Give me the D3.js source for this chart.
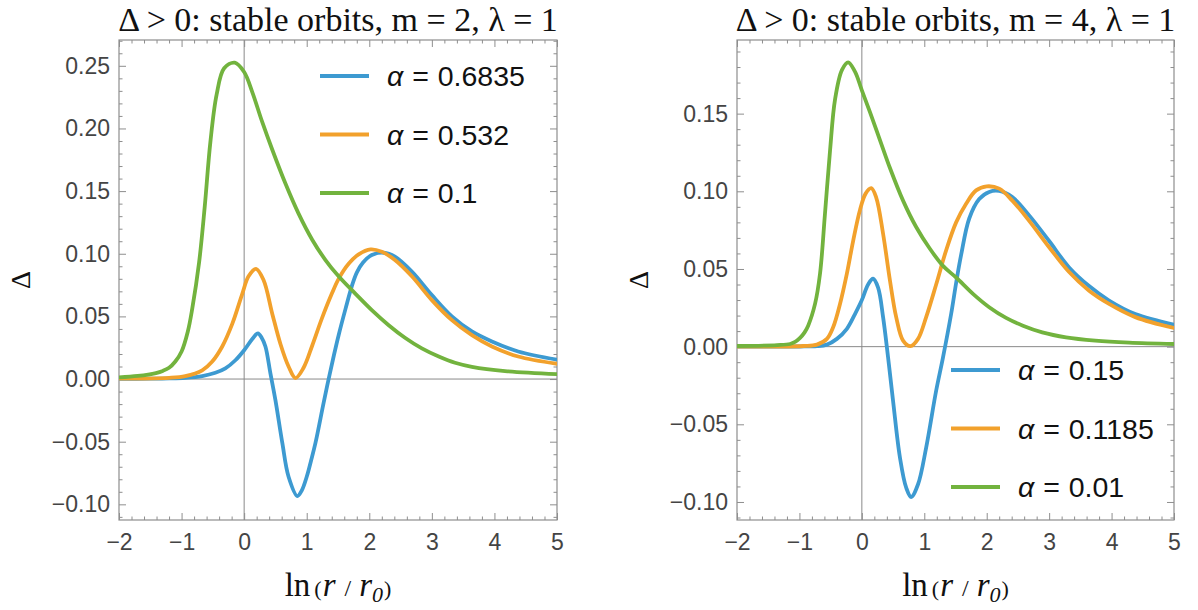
<!DOCTYPE html>
<html>
<head>
<meta charset="utf-8">
<script src="https://cdn.jsdelivr.net/npm/d3@7"></script>
<style>
  html, body { margin: 0; padding: 0; background: #fff; }
  svg { display: block; }
</style>
</head>
<body>
<svg id="chart" width="1198" height="610"></svg>
<script>
// Δ against ln(r/r0), sampled along each curve: [ln(r/r0), Δ]
// m = 2, λ = 1
const m2_alpha0_6835 = [
  [-2, 0.0002], [-1.5, 0.0003], [-1.2, 0.0005], [-0.94, 0.001], [-0.67, 0.0024],
  [-0.46, 0.005], [-0.30, 0.0085], [-0.14, 0.015], [0, 0.023], [0.13, 0.032],
  [0.22, 0.0365], [0.28, 0.033], [0.34, 0.026], [0.42, 0.0045], [0.50, -0.0168],
  [0.61, -0.051], [0.71, -0.078], [0.85, -0.0934], [0.92, -0.089], [1.0, -0.078],
  [1.07, -0.065], [1.14, -0.051], [1.27, -0.019], [1.35, 0.0], [1.43, 0.018],
  [1.51, 0.035], [1.62, 0.056], [1.72, 0.074], [1.80, 0.085], [1.90, 0.093],
  [2.04, 0.099], [2.23, 0.1008], [2.41, 0.0976], [2.68, 0.0857], [3.0, 0.067],
  [3.32, 0.050], [3.64, 0.038], [3.96, 0.030], [4.38, 0.022], [5, 0.0155]
];
const m2_alpha0_532 = [
  [-2, 0.0003], [-1.2, 0.001], [-0.94, 0.0024], [-0.67, 0.007], [-0.51, 0.014],
  [-0.35, 0.026], [-0.19, 0.044], [-0.03, 0.068], [0.07, 0.082], [0.19, 0.088],
  [0.31, 0.079], [0.45, 0.052], [0.58, 0.028], [0.71, 0.010], [0.82, 0.0008],
  [0.95, 0.009], [1.09, 0.027], [1.24, 0.048], [1.40, 0.068], [1.51, 0.080],
  [1.67, 0.092], [1.83, 0.0995], [2.02, 0.1035], [2.20, 0.1016], [2.41, 0.095],
  [2.68, 0.082], [3.0, 0.063], [3.32, 0.047], [3.64, 0.035], [3.96, 0.026],
  [4.38, 0.018], [5, 0.0122]
];
const m2_alpha0_1 = [
  [-2, 0.0013], [-1.7, 0.0025], [-1.41, 0.0048], [-1.3, 0.0065], [-1.2, 0.009],
  [-1.1, 0.014], [-1.0, 0.022], [-0.9, 0.038], [-0.83, 0.056], [-0.72, 0.093],
  [-0.63, 0.1375], [-0.54, 0.189], [-0.44, 0.227], [-0.32, 0.248], [-0.15, 0.2525],
  [0, 0.245], [0.13, 0.229], [0.29, 0.205], [0.45, 0.183], [0.66, 0.156],
  [0.87, 0.132], [1.09, 0.111], [1.30, 0.095], [1.51, 0.082], [1.78, 0.068],
  [2.04, 0.055], [2.31, 0.043], [2.57, 0.033], [2.84, 0.0245], [3.11, 0.018],
  [3.37, 0.013], [3.64, 0.0098], [4.17, 0.0064], [5, 0.004]
];

// m = 4, λ = 1
const m4_alpha0_15 = [
  [-2, 0], [-1, 0.0001], [-0.72, 0.0003], [-0.56, 0.0013], [-0.40, 0.005],
  [-0.24, 0.0115], [-0.11, 0.021], [0, 0.030], [0.10, 0.040], [0.18, 0.0437],
  [0.26, 0.038], [0.34, 0.019], [0.42, -0.0069], [0.50, -0.035], [0.61, -0.0714],
  [0.71, -0.0908], [0.79, -0.0968], [0.90, -0.0886], [1.03, -0.065], [1.19, -0.0284],
  [1.30, -0.0069], [1.43, 0.021], [1.51, 0.041], [1.59, 0.059], [1.72, 0.0825],
  [1.88, 0.095], [2.04, 0.0996], [2.20, 0.1002], [2.41, 0.0963], [2.68, 0.0845],
  [3.0, 0.068], [3.32, 0.051], [3.64, 0.039], [3.96, 0.0297], [4.38, 0.021], [5, 0.0142]
];
const m4_alpha0_1185 = [
  [-2, 0], [-0.94, 0.0004], [-0.72, 0.0013], [-0.56, 0.005], [-0.46, 0.0125],
  [-0.35, 0.0275], [-0.24, 0.047], [-0.14, 0.068], [-0.03, 0.088], [0.06, 0.0985],
  [0.15, 0.102], [0.23, 0.096], [0.34, 0.0727], [0.45, 0.0426], [0.55, 0.019],
  [0.66, 0.0039], [0.78, 0.0003], [0.90, 0.005], [1.03, 0.019], [1.19, 0.040],
  [1.35, 0.062], [1.51, 0.080], [1.67, 0.092], [1.83, 0.1006], [2.0, 0.1032],
  [2.20, 0.1017], [2.41, 0.094], [2.68, 0.081], [3.0, 0.064], [3.32, 0.048],
  [3.64, 0.036], [3.96, 0.0275], [4.38, 0.019], [5, 0.012]
];
const m4_alpha0_01 = [
  [-2, 0.0004], [-1.36, 0.001], [-1.15, 0.0017], [-1.07, 0.003], [-0.99, 0.0056],
  [-0.92, 0.009], [-0.86, 0.0135], [-0.75, 0.0275], [-0.67, 0.047], [-0.59, 0.086],
  [-0.51, 0.126], [-0.43, 0.159], [-0.32, 0.178], [-0.22, 0.183], [-0.11, 0.177],
  [0, 0.165], [0.13, 0.151], [0.29, 0.133], [0.45, 0.115], [0.66, 0.094],
  [0.87, 0.077], [1.09, 0.063], [1.30, 0.052], [1.51, 0.0445], [1.78, 0.034],
  [2.04, 0.0254], [2.31, 0.0185], [2.58, 0.0135], [2.89, 0.0092], [3.27, 0.006],
  [3.74, 0.0039], [4.28, 0.0026], [5, 0.0017]
];

// Legend labels (α values) and series colours
const m2Alphas = ["0.6835", "0.532", "0.1"];
const m4Alphas = ["0.15", "0.1185", "0.01"];
const seriesColors = ["#3d9ad1", "#f2a12c", "#72b33e"];

// Axis tick values
const xMajorTicks = [-2, -1, 0, 1, 2, 3, 4, 5];
const m2YMajorTicks = [-0.10, -0.05, 0.00, 0.05, 0.10, 0.15, 0.20, 0.25];
const m4YMajorTicks = [-0.10, -0.05, 0.00, 0.05, 0.10, 0.15];

const panels = [
  {
    title: "Δ > 0: stable orbits, m = 2, λ = 1",
    series: [m2_alpha0_6835, m2_alpha0_532, m2_alpha0_1],
    alphas: m2Alphas,
    yTicks: m2YMajorTicks,
    yDomain: [-0.1125, 0.2706],
    left: 119, right: 557, top: 40, bottom: 520,
    legend: { x: 320, y: 76 }
  },
  {
    title: "Δ > 0: stable orbits, m = 4, λ = 1",
    series: [m4_alpha0_15, m4_alpha0_1185, m4_alpha0_01],
    alphas: m4Alphas,
    yTicks: m4YMajorTicks,
    yDomain: [-0.1116, 0.1974],
    left: 737, right: 1174, top: 40, bottom: 520,
    legend: { x: 951, y: 370 }
  }
];

const svg = d3.select("#chart");
const frameColor = "#8e8e8e";
const tickFont = "'Liberation Sans', Arial, sans-serif";
const serif = "'Liberation Serif', 'Times New Roman', serif";

function range(a, b, step) {
  const out = [];
  const n = Math.round((b - a) / step);
  for (let i = 0; i <= n; i++) out.push(+(a + i * step).toFixed(6));
  return out;
}

panels.forEach((p, pi) => {
  const x = d3.scaleLinear().domain([-2, 5]).range([p.left, p.right]);
  const y = d3.scaleLinear().domain(p.yDomain).range([p.bottom, p.top]);
  const w = p.right - p.left, h = p.bottom - p.top;
  const g = svg.append("g");

  const xMinor = range(-2, 5, 0.2).filter(v => !xMajorTicks.some(t => Math.abs(t - v) < 1e-6));
  const yMinor = range(-0.11, 0.27, 0.01)
    .filter(v => v >= p.yDomain[0] && v <= p.yDomain[1])
    .filter(v => !p.yTicks.some(t => Math.abs(t - v) < 1e-6));

  const fmtY = d3.format(".2f");
  const fmtX = d3.format("d");

  // zero axes
  g.append("line")
    .attr("x1", x(0)).attr("x2", x(0)).attr("y1", p.top).attr("y2", p.bottom)
    .attr("stroke", "#8a8a8a").attr("stroke-width", 1);
  g.append("line")
    .attr("x1", p.left).attr("x2", p.right).attr("y1", y(0)).attr("y2", y(0))
    .attr("stroke", "#8a8a8a").attr("stroke-width", 1);

  // frame ticks, pointing inward on all four sides
  const sides = [
    { make: d3.axisBottom, scale: x, tr: `translate(0,${p.bottom})`, major: xMajorTicks, minor: xMinor, fmt: fmtX, labels: true, bottom: true },
    { make: d3.axisTop, scale: x, tr: `translate(0,${p.top})`, major: xMajorTicks, minor: xMinor, fmt: fmtX, labels: false },
    { make: d3.axisLeft, scale: y, tr: `translate(${p.left},0)`, major: p.yTicks, minor: yMinor, fmt: fmtY, labels: true },
    { make: d3.axisRight, scale: y, tr: `translate(${p.right},0)`, major: p.yTicks, minor: yMinor, fmt: fmtY, labels: false }
  ];
  sides.forEach(s => {
    const draw = (vals, size, withLabels) => {
      const gen = s.make(s.scale).tickValues(vals).tickSize(-size).tickPadding(9)
        .tickFormat(withLabels ? s.fmt : () => "");
      const ag = g.append("g").attr("transform", s.tr).call(gen);
      ag.select(".domain").remove();
      ag.selectAll(".tick line").attr("stroke", frameColor).attr("stroke-width", 1);
      ag.selectAll(".tick text")
        .attr("fill", "#444").attr("font-family", tickFont).attr("font-size", 23);
      return ag;
    };
    draw(s.minor, 3.5, false);
    const majorG = draw(s.major, 7, s.labels);
    if (s.labels && s.bottom) majorG.selectAll(".tick text").attr("dy", "0.9em");
  });

  // frame
  g.append("rect")
    .attr("x", p.left).attr("y", p.top).attr("width", w).attr("height", h)
    .attr("fill", "none").attr("stroke", frameColor).attr("stroke-width", 1.2);

  // curves
  const clipId = "clip" + pi;
  svg.append("clipPath").attr("id", clipId)
    .append("rect").attr("x", p.left).attr("y", p.top).attr("width", w).attr("height", h);
  const line = d3.line().x(d => x(d[0])).y(d => y(d[1])).curve(d3.curveCatmullRom.alpha(0.5));
  const curves = g.append("g").attr("clip-path", `url(#${clipId})`);
  p.series.forEach((s, i) => {
    curves.append("path").datum(s)
      .attr("d", line)
      .attr("fill", "none")
      .attr("stroke", seriesColors[i])
      .attr("stroke-width", 3.8)
      .attr("stroke-linejoin", "round")
      .attr("stroke-linecap", "round");
  });

  // legend
  p.alphas.forEach((a, i) => {
    const ly = p.legend.y + i * 58.5;
    g.append("line")
      .attr("x1", p.legend.x).attr("x2", p.legend.x + 49)
      .attr("y1", ly).attr("y2", ly)
      .attr("stroke", seriesColors[i]).attr("stroke-width", 4.2);
    const t = g.append("text")
      .attr("x", p.legend.x + 67).attr("y", ly + 10)
      .attr("font-family", tickFont).attr("font-size", 28.5).attr("fill", "#111");
    t.append("tspan").attr("font-style", "italic").text("α");
    t.append("tspan").attr("dx", 1).text(" = ");
    t.append("tspan").attr("dx", 1).text(a);
  });

  // title
  g.append("text")
    .attr("x", (p.left + p.right) / 2).attr("y", 31)
    .attr("text-anchor", "middle")
    .attr("font-family", serif).attr("font-size", 34).attr("fill", "#111")
    .text(p.title);

  // y label
  g.append("text")
    .attr("transform", `translate(${p.left - 99},${(p.top + p.bottom) / 2}) rotate(-90)`)
    .attr("text-anchor", "middle").attr("dy", "0.35em")
    .attr("font-family", serif).attr("font-size", 28).attr("fill", "#111")
    .text("Δ");

  // x label: ln(r / r0)
  const xl = g.append("text")
    .attr("x", (p.left + p.right) / 2).attr("y", 596)
    .attr("text-anchor", "middle")
    .attr("font-family", serif).attr("fill", "#111");
  xl.append("tspan").attr("font-size", 33).text("ln");
  xl.append("tspan").attr("font-size", 22).attr("dx", 4).text("(");
  xl.append("tspan").attr("font-size", 33).attr("font-style", "italic").attr("dx", 1).text("r");
  xl.append("tspan").attr("font-size", 24).attr("dx", 9).text("/");
  xl.append("tspan").attr("font-size", 33).attr("font-style", "italic").attr("dx", 8).text("r");
  xl.append("tspan").attr("font-size", 22).attr("font-style", "italic").attr("dy", 6).text("0");
  xl.append("tspan").attr("font-size", 22).attr("dx", 1).attr("dy", -6).text(")");
});
</script>
</body>
</html>
